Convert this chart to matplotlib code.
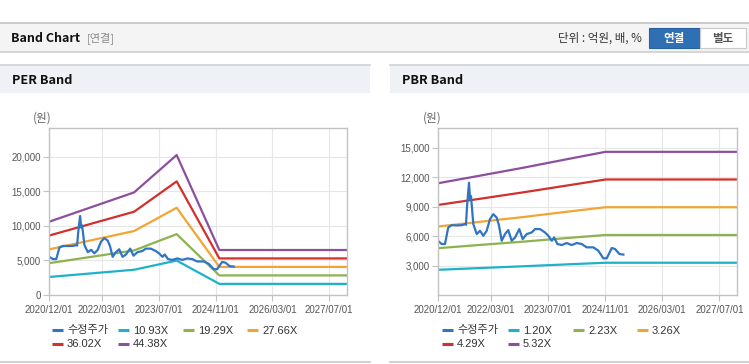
import matplotlib
matplotlib.use('Agg')
import matplotlib.pyplot as plt
import pandas as pd
from matplotlib.patches import Rectangle
from matplotlib.ticker import FuncFormatter

W, H = 749, 364

# ---------------- data ----------------
price_dates = ['2020-12-01', '2021-01-04', '2021-02-01', '2021-03-01', '2021-03-30', '2021-05-12',
               '2021-06-24', '2021-07-22', '2021-07-30', '2021-08-08', '2021-08-25', '2021-09-03',
               '2021-09-11', '2021-10-01', '2021-10-30', '2021-11-27', '2021-12-25', '2022-01-23',
               '2022-02-20', '2022-03-20', '2022-04-18', '2022-05-08', '2022-05-31', '2022-06-28',
               '2022-07-26', '2022-08-24', '2022-09-22', '2022-10-28', '2022-11-26', '2022-12-30',
               '2023-02-11', '2023-03-11', '2023-04-23', '2023-06-04', '2023-07-03', '2023-08-01',
               '2023-08-21', '2023-09-18', '2023-10-25', '2023-12-07', '2024-01-18', '2024-03-01',
               '2024-04-13', '2024-05-25', '2024-07-21', '2024-09-01', '2024-10-14', '2024-11-12',
               '2024-12-25', '2025-01-22', '2025-02-28', '2025-04-03']
price = [5550, 5200, 5200, 6890, 7120, 7090,
         7120, 7230, 7160, 9000, 11450, 9760,
         10090, 7230, 6210, 6550, 6040, 6550,
         7730, 8240, 7900, 7090, 5530, 6210,
         6620, 5530, 5870, 6720, 5700, 6210,
         6380, 6720, 6720, 6380, 6040, 5530,
         5870, 5200, 5090, 5300, 5090, 5300,
         5200, 4860, 4860, 4520, 3740, 3740,
         4790, 4690, 4180, 4120]

per_dates = ['2020-12-01', '2022-12-01', '2023-12-01', '2024-12-01', '2027-12-01']
per_labels = ['10.93X', '19.29X', '27.66X', '36.02X', '44.38X']
per_1093 = [2610, 3660, 4990, 1610, 1610]
per_1929 = [4610, 6460, 8820, 2840, 2840]
per_2766 = [6610, 9270, 12640, 4070, 4070]
per_3602 = [8610, 12070, 16460, 5300, 5300]
per_4438 = [10610, 14870, 20280, 6520, 6520]

pbr_dates = ['2020-12-01', '2021-12-01', '2022-12-01', '2023-12-01', '2024-11-01', '2027-12-01']
pbr_labels = ['1.20X', '2.23X', '3.26X', '4.29X', '5.32X']
pbr_120 = [2570, 2750, 2930, 3120, 3290, 3290]
pbr_223 = [4770, 5110, 5440, 5800, 6120, 6120]
pbr_326 = [6980, 7470, 7950, 8480, 8950, 8950]
pbr_429 = [9180, 9820, 10470, 11150, 11780, 11780]
pbr_532 = [11390, 12180, 12980, 13830, 14600, 14600]

price_label = '수정주가'
x_ticks = ['2020-12-01', '2022-03-01', '2023-07-01', '2024-11-01', '2026-03-01', '2027-07-01']
x_tick_labels = ['2020/12/01', '2022/03/01', '2023/07/01', '2024/11/01', '2026/03/01', '2027/07/01']
per_yticks = [0, 5000, 10000, 15000, 20000]
pbr_yticks = [3000, 6000, 9000, 12000, 15000]

colors = ['#1cb3c8', '#8eb24e', '#f3a433', '#d1302d', '#8c4f9e']
price_color = '#2f74c5'

FONT = ['Liberation Sans', 'Noto Sans CJK KR', 'DejaVu Sans']
KFONT = ['Noto Sans CJK KR', 'DejaVu Sans']
plt.rcParams['font.family'] = FONT

fig = plt.figure(figsize=(W / 100, H / 100), dpi=100)
fig.patch.set_facecolor('white')

# overlay in pixel coordinates
bg = fig.add_axes([0, 0, 1, 1], zorder=0)
bg.set_xlim(0, W)
bg.set_ylim(H, 0)
bg.axis('off')


def rect(x, y, w, h, fc, ec='none', lw=0):
    bg.add_patch(Rectangle((x, y), w, h, facecolor=fc, edgecolor=ec, lw=lw))


# header bar
rect(0, 22, W, 30, '#f4f4f4')
bg.plot([0, W], [22.5, 22.5], color='#c4c4c4', lw=1.2)
bg.plot([0, W], [52, 52], color='#d6d6d6', lw=1.5)
bg.text(11, 38.5, 'Band Chart', fontsize=9.0, fontweight='bold', color='#111',
        va='center', ha='left', family=KFONT)
bg.text(87, 38.5, '[연결]', fontsize=8.0, color='#8a8a8a', va='center', ha='left', family=KFONT)
bg.text(642, 38.5, '단위 : 억원, 배, %', fontsize=8.3, color='#333', va='center', ha='right',
        family=KFONT)
rect(648.5, 28, 51.5, 20, '#2f6fb3', ec='#2a62a0', lw=0.8)
rect(700, 28, 46, 20, '#ffffff', ec='#c8c8c8', lw=0.8)
bg.text(674, 38.3, '연결', fontsize=8.3, fontweight='bold', color='white', va='center',
        ha='center', family=KFONT)
bg.text(723, 38.3, '별도', fontsize=8.3, fontweight='bold', color='#555', va='center',
        ha='center', family=KFONT)

# panels
for px0, px1, title in [(0, 370, 'PER Band'), (390, W, 'PBR Band')]:
    rect(px0, 64, px1 - px0, 29, '#eef2f7')
    bg.plot([px0, px1], [64.5, 64.5], color='#d2d2d2', lw=1.2)
    bg.plot([px0, px1], [362, 362], color='#d2d2d2', lw=1.5)
    bg.text(px0 + 11.5, 80, title, fontsize=9.2, fontweight='bold', color='#111',
            va='center', ha='left', family=KFONT)
    bg.text(px0 + 33, 118, '(원)', fontsize=8.4, color='#666', va='center', ha='left',
            family=KFONT)


def add_ax(x0, y0, x1, y1):
    return fig.add_axes([x0 / W, 1 - y1 / H, (x1 - x0) / W, (y1 - y0) / H], zorder=2)


def style(ax, yticks, ylim):
    ax.set_facecolor('white')
    ax.set_xlim(pd.Timestamp('2020-12-01'), pd.Timestamp('2027-12-01'))
    ax.set_ylim(*ylim)
    ax.set_xticks(pd.to_datetime(x_ticks))
    ax.set_xticklabels(x_tick_labels)
    ax.set_yticks(yticks)
    ax.yaxis.set_major_formatter(FuncFormatter(lambda v, p: f'{int(v):,}'))
    ax.grid(True, color='#e6e6e6', lw=0.8)
    ax.set_axisbelow(True)
    for s in ax.spines.values():
        s.set_color('#c2c2c2')
        s.set_linewidth(1.0)
    ax.tick_params(axis='both', length=4, color='#c2c2c2', labelsize=7.0,
                   labelcolor='#555', pad=2)
    ax.tick_params(axis='x', pad=3)


def legend(x0, labels):
    items = [(price_label, price_color)] + list(zip(labels, colors))
    cols = [0, 66, 131, 195]
    for i, (lab, c) in enumerate(items):
        r, k = divmod(i, 4)
        lx = x0 + cols[k]
        ly = 330 + r * 13.5
        bg.plot([lx, lx + 11], [ly, ly], color=c, lw=2.2, solid_capstyle='butt')
        bg.text(lx + 15, ly + 0.5, lab, fontsize=8.0, color='#333', va='center', ha='left',
                family=FONT)


pd_price = pd.to_datetime(price_dates)

ax1 = add_ax(49, 128, 347, 295)
style(ax1, per_yticks, (0, 24200))
for vals, c in zip([per_1093, per_1929, per_2766, per_3602, per_4438], colors):
    ax1.plot(pd.to_datetime(per_dates), vals, color=c, lw=1.6)
ax1.plot(pd_price, price, color=price_color, lw=1.6)
legend(52, per_labels)

ax2 = add_ax(437.7, 128.3, 737.3, 295)
style(ax2, pbr_yticks, (0, 17000))
for vals, c in zip([pbr_120, pbr_223, pbr_326, pbr_429, pbr_532], colors):
    ax2.plot(pd.to_datetime(pbr_dates), vals, color=c, lw=1.6)
ax2.plot(pd_price, price, color=price_color, lw=1.6)
legend(442, pbr_labels)

fig.savefig('out.png', dpi=100, facecolor='white')
